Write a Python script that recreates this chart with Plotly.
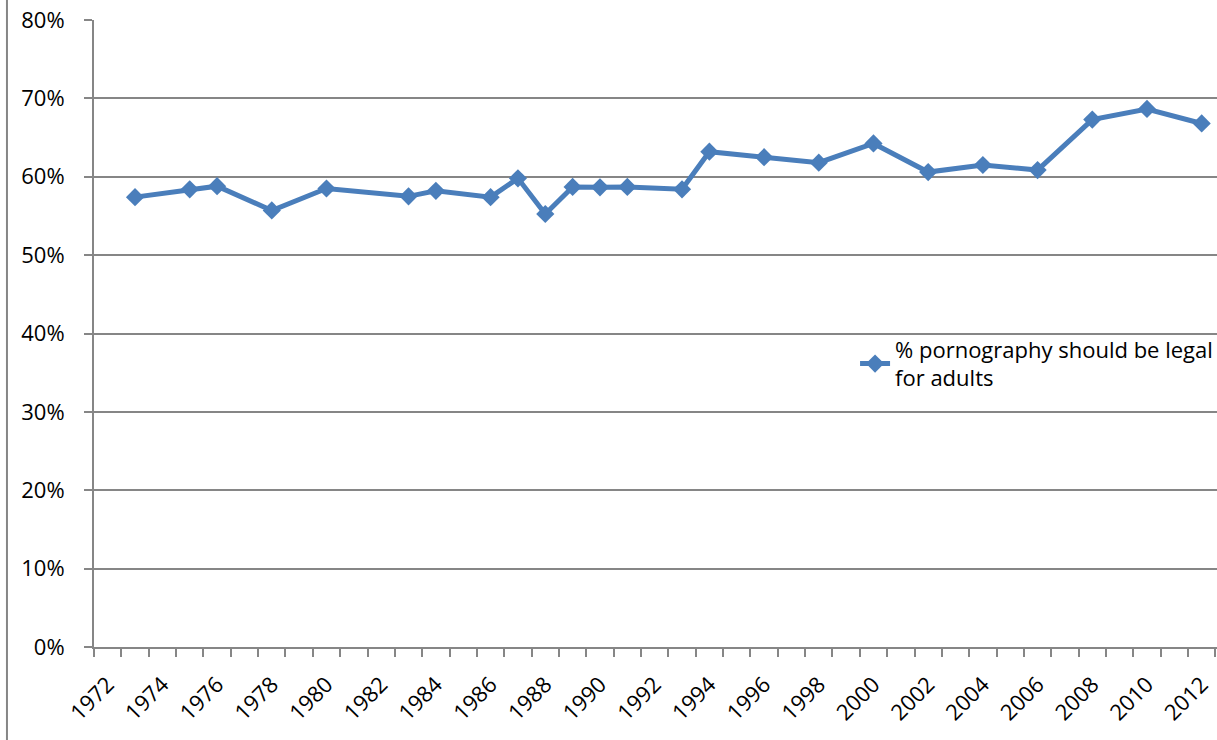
import plotly.graph_objects as go

years = [1973, 1975, 1976, 1978, 1980, 1983, 1984, 1986, 1987, 1988, 1989, 1990,
         1991, 1993, 1994, 1996, 1998, 2000, 2002, 2004, 2006, 2008, 2010, 2012]
pct_legal = [57.4, 58.4, 58.8, 55.7, 58.5, 57.5, 58.2, 57.4, 59.8, 55.25, 58.7, 58.65,
             58.7, 58.4, 63.2, 62.5, 61.8, 64.25, 60.6, 61.5, 60.85, 67.3, 68.65, 66.8]
series_name = "% pornography should be legal<br>for adults"
x_tick_years = list(range(1972, 2013, 2))
y_ticks = [0, 10, 20, 30, 40, 50, 60, 70, 80]

LINE = "#4A7EBB"
GRID = "#868686"
FONT = "'Open Sans', Calibri, Carlito, sans-serif"
FS = 22

fig = go.Figure()
fig.add_trace(go.Scatter(
    x=years, y=pct_legal, mode="lines+markers", name=series_name,
    line=dict(color=LINE, width=5),
    marker=dict(symbol="diamond", size=14, color=LINE),
    showlegend=True,
))

fig.update_layout(
    width=1217, height=740,
    margin=dict(l=94, r=0, t=20, b=93, autoexpand=False),
    paper_bgcolor="white", plot_bgcolor="white",
    font=dict(family=FONT, size=FS, color="black"),
    showlegend=True,
    legend=dict(x=0.6777, xanchor="left", y=0.508, yanchor="top",
                bgcolor="rgba(0,0,0,0)", borderwidth=0,
                font=dict(family=FONT, size=FS, color="black")),
    xaxis=dict(
        range=[1971.5, 2012.56], tickmode="array",
        tickvals=x_tick_years, ticktext=[str(y) for y in x_tick_years],
        tickangle=-45, ticks="", showgrid=False, zeroline=False,
        showline=True, linecolor=GRID, linewidth=2,
        ticklabelstandoff=14,
        tickfont=dict(family=FONT, size=FS, color="black"),
        minor=dict(ticks="outside", tick0=1971.5, dtick=1, ticklen=8,
                   tickcolor=GRID, tickwidth=1.5, showgrid=False),
    ),
    yaxis=dict(
        range=[0, 80], tickmode="array", tickvals=y_ticks,
        ticktext=[f"{v}%" for v in y_ticks],
        ticks="outside", ticklen=8, tickcolor=GRID, tickwidth=1.5,
        showgrid=True, gridcolor=GRID, gridwidth=1.5, zeroline=False,
        showline=True, linecolor=GRID, linewidth=2,
        ticklabelstandoff=15,
        tickfont=dict(family=FONT, size=FS, color="black"),
    ),
    shapes=[dict(type="line", xref="paper", yref="paper",
                 x0=-0.0775, x1=-0.0775, y0=-0.2, y1=1.1,
                 line=dict(color=GRID, width=2))],
)

fig.write_html("out.html", config={"displayModeBar": False},
               post_script="document.body.style.margin='0px';")
